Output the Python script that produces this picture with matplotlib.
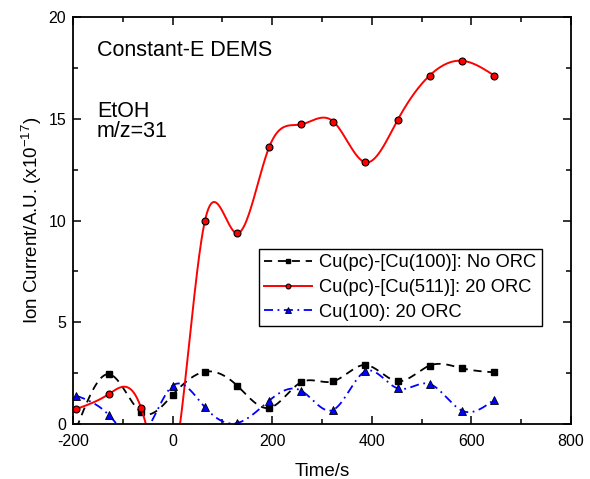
import numpy as np
import matplotlib.pyplot as plt
from matplotlib.ticker import MultipleLocator

plt.rcParams['font.family'] = ['Liberation Sans', 'DejaVu Sans']
plt.rcParams['mathtext.fontset'] = 'custom'
plt.rcParams['mathtext.rm'] = 'Liberation Sans'
plt.rcParams['mathtext.it'] = 'Liberation Sans:italic'
plt.rcParams['axes.unicode_minus'] = False

# values (time in s, ion current in 1e-17 A.U.)
time = [-193, -128, -63, 0, 65, 130, 194, 258, 323, 387, 452, 516, 581, 646]
cu_pc_100 = [-0.2, 2.45, 0.57, 1.43, 2.57, 1.88, 0.79, 2.05, 2.10, 2.90, 2.10, 2.87, 2.74, 2.54]
cu_pc_511 = [0.74, 1.47, 0.77, -2.2, 9.99, 9.37, 13.61, 14.72, 14.86, 12.86, 14.94, 17.12, 17.85, 17.12]
cu_100 = [1.39, 0.44, -0.6, 1.88, 0.82, 0.05, 1.15, 1.64, 0.70, 2.59, 1.75, 1.97, 0.66, 1.20]

labels = ['Cu(pc)-[Cu(100)]: No ORC',
          'Cu(pc)-[Cu(511)]: 20 ORC',
          'Cu(100): 20 ORC']


def natural_spline(x, y, n=600):
    # natural cubic spline through the points, like Origin's "Spline" line
    x = np.asarray(x, float)
    y = np.asarray(y, float)
    k = len(x)
    h = np.diff(x)
    A = np.zeros((k, k))
    r = np.zeros(k)
    A[0, 0] = A[-1, -1] = 1
    for i in range(1, k - 1):
        A[i, i - 1] = h[i - 1]
        A[i, i] = 2 * (h[i - 1] + h[i])
        A[i, i + 1] = h[i]
        r[i] = 6 * ((y[i + 1] - y[i]) / h[i] - (y[i] - y[i - 1]) / h[i - 1])
    M = np.linalg.solve(A, r)
    xs = np.linspace(x[0], x[-1], n)
    idx = np.clip(np.searchsorted(x, xs) - 1, 0, k - 2)
    x0, x1 = x[idx], x[idx + 1]
    hh = x1 - x0
    a = (x1 - xs) / hh
    b = (xs - x0) / hh
    ys = (a * y[idx] + b * y[idx + 1]
          + ((a ** 3 - a) * M[idx] + (b ** 3 - b) * M[idx + 1]) * hh ** 2 / 6)
    return xs, ys


fig = plt.figure(figsize=(5.9, 4.79), dpi=100)
ax = fig.add_axes([0.1237, 0.1148, 0.844, 0.8497])

styles = [
    dict(color='black', ls=(0, (4.5, 3.2)), lw=1.3, marker='s', mfc='black', mec='black', ms=5),
    dict(color='red', ls='-', lw=1.4, marker='o', mfc='red', mec='black', ms=5, mew=0.8),
    dict(color='blue', ls=(0, (5, 2.5, 1, 2.5)), lw=1.3, marker='^', mfc='blue', mec='black', ms=6, mew=0.6),
]

for ys, lab, st in zip([cu_pc_100, cu_pc_511, cu_100], labels, styles):
    xs, yy = natural_spline(time, ys)
    ax.plot(xs, yy, color=st['color'], ls=st['ls'], lw=st['lw'])
    ax.plot(time, ys, ls='none', marker=st['marker'], mfc=st['mfc'],
            mec=st['mec'], ms=st['ms'], mew=st.get('mew', 1))
    # legend proxy
    ax.plot([], [], color=st['color'], ls=st['ls'], lw=st['lw'],
            marker=st['marker'], mfc=st['mfc'], mec=st['mec'],
            ms=st['ms'] - 1.5, mew=st.get('mew', 1), label=lab)

ax.set_xlim(-200, 800)
ax.set_ylim(0, 20)
ax.xaxis.set_major_locator(MultipleLocator(200))
ax.xaxis.set_minor_locator(MultipleLocator(100))
ax.yaxis.set_major_locator(MultipleLocator(5))
ax.yaxis.set_minor_locator(MultipleLocator(2.5))
ax.tick_params(which='both', direction='in', top=True, right=True, width=1.1,
               labelsize=11.5)
ax.tick_params(which='major', length=6)
ax.tick_params(which='minor', length=3.5)
ax.tick_params(axis='x', pad=7)
ax.tick_params(axis='y', pad=5)
for sp in ax.spines.values():
    sp.set_linewidth(1.3)

ax.set_xlabel('Time/s', fontsize=13.5, labelpad=10)
ax.set_ylabel('Ion Current/A.U. (x10$^{-17}$)', fontsize=13.5, labelpad=3)

ax.text(0.048, 0.904, 'Constant-E DEMS', transform=ax.transAxes, fontsize=15.5)
ax.text(0.048, 0.754, 'EtOH', transform=ax.transAxes, fontsize=15.5)
ax.text(0.048, 0.705, 'm/z=31', transform=ax.transAxes, fontsize=15.5)

leg = ax.legend(loc='upper left', bbox_to_anchor=(0.373, 0.43), fontsize=13.2,
                fancybox=False, edgecolor='black', framealpha=1,
                handlelength=2.6, handletextpad=0.4, borderpad=0.3,
                labelspacing=0.42, numpoints=1, borderaxespad=0)
leg.get_frame().set_linewidth(1.0)

fig.savefig('out.png', dpi=100)
